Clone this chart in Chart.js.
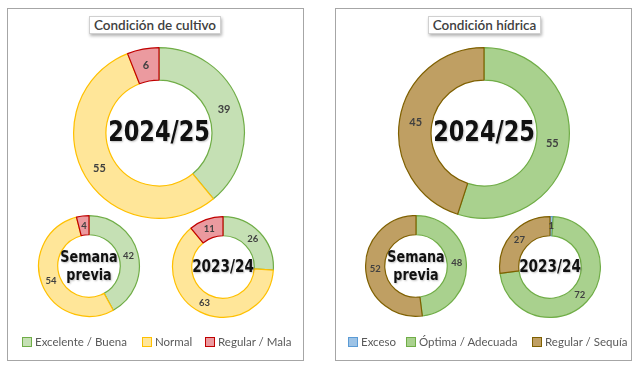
<!DOCTYPE html>
<html>
<head>
<meta charset="utf-8">
<script src="https://cdn.jsdelivr.net/npm/chart.js@4.4.1/dist/chart.umd.min.js"></script>
<style>
  body { margin: 0; width: 640px; height: 368px; background: #fff; position: relative; overflow: hidden; font-family: Lato, "Open Sans", sans-serif; }
  .panel { position: absolute; top: 8px; width: 297px; height: 353px; border: 1px solid #a6a6a6; box-sizing: border-box; }
  .title { position: absolute; top: 16px; height: 18px; line-height: 17px; font-size: 13.5px; color: #404040; font-weight: 600;
           border: 1px solid #d0d0d0; box-shadow: 1px 2px 3px rgba(0,0,0,0.3); background: #fff; text-align: center; box-sizing: border-box; }
  canvas { position: absolute; }
  .legend { position: absolute; top: 334px; height: 16px; font-size: 11.5px; color: #595959; white-space: nowrap; }
  .legend span.item { position: absolute; top: 0; line-height: 16px; }
  .legend i { display: inline-block; width: 8px; height: 8px; border: 1px solid; margin-right: 3px; vertical-align: -1px; }
</style>
</head>
<body>
<div class="panel" style="left:7px"></div>
<div class="panel" style="left:335px"></div>
<div class="title" style="left:89px; width:132px">Condición de cultivo</div>
<div class="title" style="left:428px; width:113px">Condición hídrica</div>

<canvas id="c1" width="174" height="174" style="left:72px; top:46px"></canvas>
<canvas id="c2" width="104" height="104" style="left:37px; top:214px"></canvas>
<canvas id="c3" width="104" height="104" style="left:171px; top:215px"></canvas>
<canvas id="h1" width="174" height="174" style="left:397px; top:46px"></canvas>
<canvas id="h2" width="104" height="104" style="left:364px; top:214px"></canvas>
<canvas id="h3" width="104" height="104" style="left:498px; top:215px"></canvas>

<div class="legend" id="legCultivo"></div>
<div class="legend" id="legHidrica"></div>

<script>
// categories
const cultivoCats = ['Excelente / Buena', 'Normal', 'Regular / Mala'];
const hidricaCats = ['Exceso', 'Óptima / Adecuada', 'Regular / Sequía'];

// values (%)
const cultivoActual = [39, 55, 6];
const cultivoPrevia = [42, 54, 4];
const cultivoAnterior = [26, 63, 11];
const hidricaActual = [0, 55, 45];
const hidricaPrevia = [0, 48, 52];
const hidricaAnterior = [1, 72, 27];

// center labels
const labelActual = ['2024/25'];
const labelPrevia = ['Semana', 'previa'];
const labelAnterior = ['2023/24'];

// colours
const cultivoFill = ['#c5e0b4', '#ffe699', '#eb9a9f'];
const cultivoBorder = ['#70ad47', '#ffc000', '#c00000'];
const hidricaFill = ['#9dc3e6', '#a9d18e', '#bf9f63'];
const hidricaBorder = ['#5b9bd5', '#70ad47', '#7f6000'];

// draws value labels in the middle of each slice + the text in the hole
const donutText = {
  id: 'donutText',
  afterDatasetsDraw(chart, args, opts) {
    const ctx = chart.ctx;
    const meta = chart.getDatasetMeta(0);
    const values = chart.data.datasets[0].data;
    ctx.save();
    ctx.textAlign = 'center';
    ctx.textBaseline = 'middle';
    ctx.fillStyle = '#404040';
    ctx.font = 'bold ' + opts.valueSize + 'px Lato, "Open Sans", sans-serif';
    meta.data.forEach((arc, i) => {
      if (!values[i]) return;
      const p = arc.getProps(['x', 'y', 'startAngle', 'endAngle', 'innerRadius', 'outerRadius']);
      const a = (p.startAngle + p.endAngle) / 2;
      const r = (p.innerRadius + p.outerRadius) / 2;
      ctx.fillText(values[i], p.x + Math.cos(a) * r, p.y + Math.sin(a) * r);
    });
    const c = meta.data[0].getProps(['x', 'y']);
    // narrow the bold face a bit, the original uses a condensed font
    ctx.translate(c.x, c.y);
    ctx.scale(opts.squeeze, 1);
    ctx.font = 'bold ' + opts.centerSize + 'px "DejaVu Sans", sans-serif';
    ctx.fillStyle = '#111';
    ctx.shadowColor = 'rgba(0,0,0,0.25)';
    ctx.shadowBlur = 2;
    ctx.shadowOffsetX = 1;
    ctx.shadowOffsetY = 1;
    const lines = opts.lines;
    const lh = opts.centerSize * 1.15;
    lines.forEach((t, k) => {
      ctx.fillText(t, 0, (k - (lines.length - 1) / 2) * lh + 1);
    });
    ctx.restore();
  }
};

function makeDonut(id, cats, values, fill, border, lines, centerSize, squeeze, valueSize) {
  return new Chart(document.getElementById(id).getContext('2d'), {
    type: 'doughnut',
    data: {
      labels: cats,
      datasets: [{
        data: values,
        backgroundColor: fill,
        borderColor: border,
        borderWidth: 1.2
      }]
    },
    options: {
      responsive: false,
      animation: false,
      events: [],
      cutout: '62%',
      layout: { padding: 1 },
      plugins: {
        legend: { display: false },
        tooltip: { enabled: false },
        donutText: { lines: lines, centerSize: centerSize, squeeze: squeeze, valueSize: valueSize }
      }
    },
    plugins: [donutText]
  });
}

makeDonut('c1', cultivoCats, cultivoActual, cultivoFill, cultivoBorder, labelActual, 28, 0.8, 11);
makeDonut('c2', cultivoCats, cultivoPrevia, cultivoFill, cultivoBorder, labelPrevia, 15, 0.85, 9.5);
makeDonut('c3', cultivoCats, cultivoAnterior, cultivoFill, cultivoBorder, labelAnterior, 17, 0.8, 9.5);
makeDonut('h1', hidricaCats, hidricaActual, hidricaFill, hidricaBorder, labelActual, 28, 0.8, 11);
makeDonut('h2', hidricaCats, hidricaPrevia, hidricaFill, hidricaBorder, labelPrevia, 15, 0.85, 9.5);
makeDonut('h3', hidricaCats, hidricaAnterior, hidricaFill, hidricaBorder, labelAnterior, 17, 0.8, 9.5);

// legends
function buildLegend(elId, left, cats, fill, border, offsets) {
  const el = document.getElementById(elId);
  el.style.left = left + 'px';
  cats.forEach((name, i) => {
    const s = document.createElement('span');
    s.className = 'item';
    s.style.left = offsets[i] + 'px';
    s.innerHTML = '<i style="background:' + fill[i] + ';border-color:' + border[i] + '"></i>' + name;
    el.appendChild(s);
  });
}
buildLegend('legCultivo', 22, cultivoCats, cultivoFill, cultivoBorder, [0, 120, 183]);
buildLegend('legHidrica', 348, hidricaCats, hidricaFill, hidricaBorder, [0, 58, 184]);
</script>
</body>
</html>
